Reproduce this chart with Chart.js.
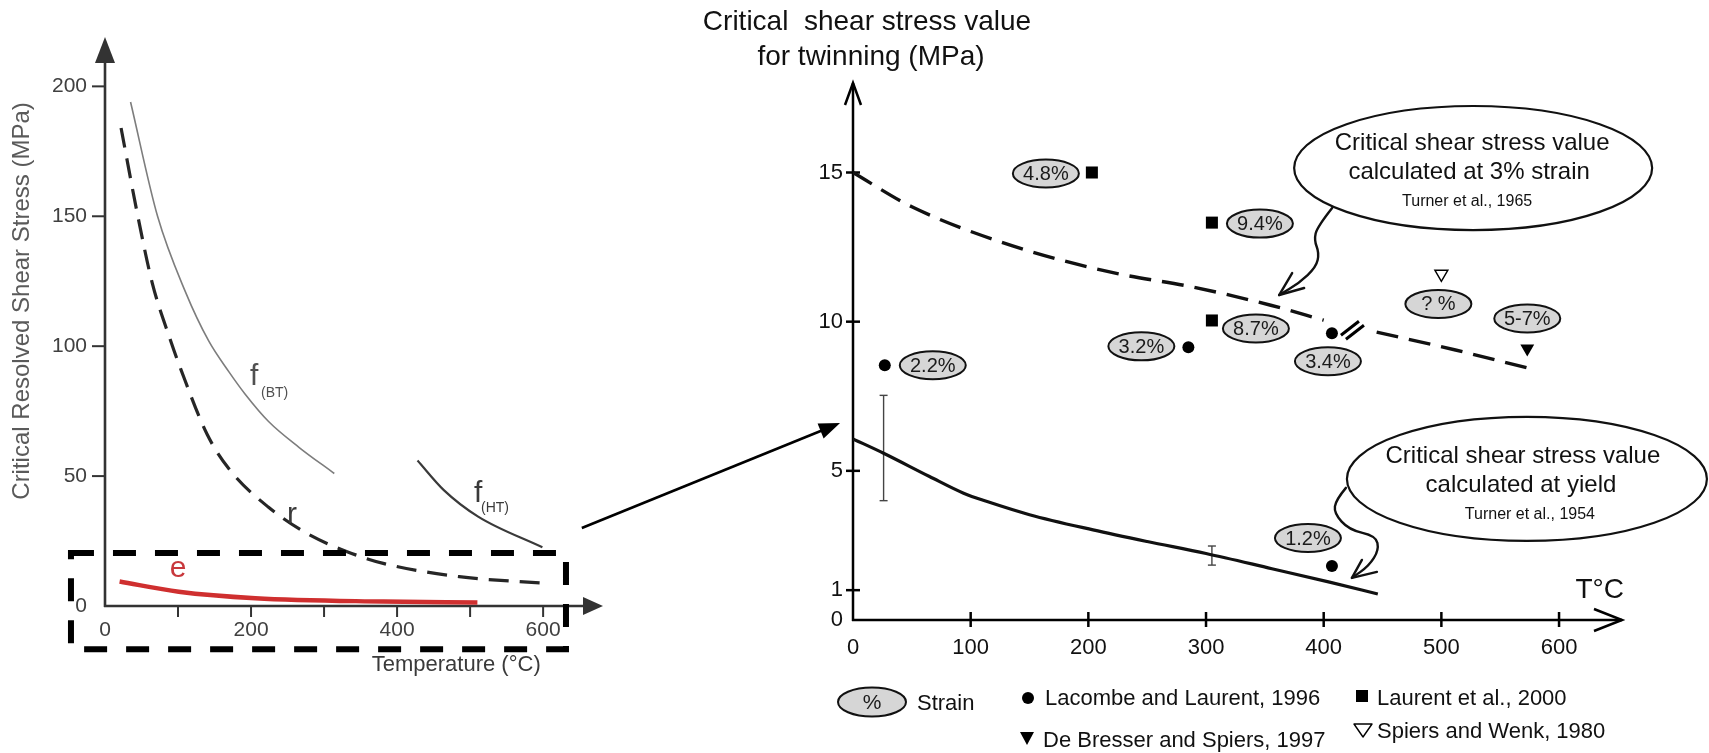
<!DOCTYPE html>
<html><head><meta charset="utf-8">
<script src="https://cdn.jsdelivr.net/npm/chart.js@4.4.1/dist/chart.umd.min.js"></script>
<style>
html,body{margin:0;padding:0;background:#fff;}
#wrap{position:relative;width:1709px;height:753px;overflow:hidden;background:#fff;}
canvas{position:absolute;left:0;top:0;width:1709px;height:753px;}
</style></head><body>
<div id="wrap"><canvas id="left" width="1709" height="753"></canvas><canvas id="right" width="1709" height="753"></canvas></div>
<script>
const FONT = '"Liberation Sans", Arial, Helvetica, sans-serif';
Chart.defaults.font.family = FONT;

// ================= LEFT PANEL DATA =================
const leftXTicks = [0, 100, 200, 300, 400, 500, 600];
const leftXTickLabels = ['0', '', '200', '', '400', '', '600'];
const leftYTicks = [0, 50, 100, 150, 200];
const leftYTickLabels = ['0', '50', '100', '150', '200'];
const fbtT = [35, 72, 110, 142, 170, 192, 224, 266, 314];
const fbtS = [194, 150, 121, 102, 90, 81.5, 71, 61, 51];
const rT = [22, 45, 65, 90, 104, 140, 172, 224, 276, 328, 381, 485, 603];
const rS = [184, 150, 124, 102, 91, 66, 52, 38, 28, 21.3, 16.4, 11.3, 8.7];
const fhtT = [428, 464, 511, 599];
const fhtS = [56, 44.6, 34.4, 22.6];
const eT = [20, 101, 206, 381, 510];
const eS = [9.4, 5.5, 3.0, 1.7, 1.3];

// ================= RIGHT PANEL DATA =================
const rightXTicks = [0, 100, 200, 300, 400, 500, 600];
const rightXTickLabels = ['0', '100', '200', '300', '400', '500', '600'];
const rightYTicks = [0, 1, 5, 10, 15];
const rightYTickLabels = ['0', '1', '5', '10', '15'];
const strain3T = [0, 50, 135, 220, 290, 355, 400, 422, 445, 512, 575];
const strain3S = [15.0, 13.85, 12.55, 11.65, 11.15, 10.55, 10.05, null, 9.65, 9.05, 8.43];
const yieldT = [0, 26, 65, 94, 114, 150, 204, 250, 300, 356, 405, 446];
const yieldS = [6.07, 5.59, 4.81, 4.25, 3.97, 3.53, 3.02, 2.63, 2.23, 1.72, 1.27, 0.87];
const errT = [26, 305];
const errLow = [4.0, 1.84];
const errHigh = [7.53, 2.48];
const lacombeT = [27, 285, 407, 407];
const lacombeS = [8.54, 9.14, 9.61, 1.81];
const lacombeStrain = ['2.2%', '3.2%', '3.4%', '1.2%'];
const laurentT = [203, 305, 305];
const laurentS = [15.0, 13.32, 10.04];
const laurentStrain = ['4.8%', '9.4%', '8.7%'];
const debresserT = [573];
const debresserS = [9.1];
const debresserStrain = ['5-7%'];
const spiersT = [500];
const spiersS = [11.6];
const spiersStrain = ['? %'];

// ================= ANNOTATION LAYOUT (not data) =================
const strainOffsets = {
  'Lacombe and Laurent, 1996': [[48, 0], [-47, -1], [-4, 28], [-24, -28]],
  'Laurent et al., 2000': [[-46, 1], [48, 1], [44, 8]],
  'De Bresser and Spiers, 1997': [[0, -30]],
  'Spiers and Wenk, 1980': [[-3, 30]]
};
const leftCurveLabels = [
  {text: 'f', x: 198.6, y: 85.1, size: 30, color: '#505050', align: 'left'},
  {text: '(BT)', x: 213.6, y: 80.4, size: 14, color: '#505050', align: 'left'},
  {text: 'r', x: 256.1, y: 31.9, size: 30, color: '#3a3a3a', align: 'center'},
  {text: 'f', x: 505.3, y: 40.0, size: 30, color: '#3a3a3a', align: 'left'},
  {text: '(HT)', x: 514.9, y: 36.2, size: 14, color: '#3a3a3a', align: 'left'},
  {text: 'e', x: 100, y: 11.2, size: 30, color: '#c8383c', align: 'center'}
];
const zoomBox = {x0: -46.6, x1: 631.3, y0: -16.6, y1: 20.4};
const connector = {from: {x: 653, y: 30}, to: {x: -11, y: 6.6}};
const callouts = [
  {lines: ['Critical shear stress value', 'calculated at 3% strain', 'Turner et al., 1965'],
   at: {x: 527, y: 15.15}, rx: 179, ry: 62, dy: [-25, 4, 34], dx: [-1, -4, -6],
   tail: [[-141, 40], [-156, 59], [-159, 72], [-154, 85], [-157, 99], [-174, 115], [-194, 127]],
   head: [[-181, 105], [-169, 120]]},
  {lines: ['Critical shear stress value', 'calculated at yield', 'Turner et al., 1954'],
   at: {x: 572.7, y: 4.73}, rx: 180, ry: 62, dy: [-23, 6, 36], dx: [-4, -6, 3],
   tail: [[-181, 9], [-191, 21], [-193, 34], [-178, 51], [-151, 57], [-148, 71], [-158, 87], [-175, 99]],
   head: [[-165, 81], [-150, 93]]}
];

function pts(xs, ys) { return xs.map((x, i) => ({x: x, y: ys[i]})); }

function smoothPath(ctx, p) {
  ctx.beginPath();
  ctx.moveTo(p[0][0], p[0][1]);
  for (let i = 1; i < p.length - 1; i++) {
    const mx = (p[i][0] + p[i + 1][0]) / 2, my = (p[i][1] + p[i + 1][1]) / 2;
    ctx.quadraticCurveTo(p[i][0], p[i][1], mx, my);
  }
  ctx.lineTo(p[p.length - 1][0], p[p.length - 1][1]);
  ctx.stroke();
}
function filledHead(ctx, tx, ty, fx, fy, len, half) {
  const a = Math.atan2(ty - fy, tx - fx);
  const bx = tx - len * Math.cos(a), by = ty - len * Math.sin(a);
  ctx.beginPath();
  ctx.moveTo(tx, ty);
  ctx.lineTo(bx + half * Math.sin(a), by - half * Math.cos(a));
  ctx.lineTo(bx - half * Math.sin(a), by + half * Math.cos(a));
  ctx.closePath();
  ctx.fill();
}
function strainEllipse(ctx, cx, cy, txt, rx, ry, size) {
  ctx.beginPath();
  ctx.ellipse(cx, cy, rx, ry, 0, 0, Math.PI * 2);
  ctx.fillStyle = '#d6d6d6';
  ctx.fill();
  ctx.lineWidth = 2;
  ctx.strokeStyle = '#111';
  ctx.stroke();
  ctx.fillStyle = '#1a1a1a';
  ctx.font = size + 'px ' + FONT;
  ctx.textAlign = 'center';
  ctx.textBaseline = 'middle';
  ctx.fillText(txt, cx, cy + 1);
}
function marker(ctx, style, x, y) {
  ctx.fillStyle = '#000'; ctx.strokeStyle = '#000';
  ctx.beginPath();
  if (style === 'circle') { ctx.arc(x, y, 6, 0, Math.PI * 2); ctx.fill(); }
  else if (style === 'rect') { ctx.fillRect(x - 6, y - 6, 12, 12); }
  else if (style === 'tri') { ctx.moveTo(x - 7, y - 6); ctx.lineTo(x + 7, y - 6); ctx.lineTo(x, y + 7); ctx.closePath(); ctx.fill(); }
  else if (style === 'otri') { ctx.lineWidth = 1.4; ctx.moveTo(x - 9, y - 6); ctx.lineTo(x + 9, y - 6); ctx.lineTo(x, y + 7); ctx.closePath(); ctx.stroke(); }
}

// ================= LEFT PANEL =================
const leftDecor = {
  id: 'leftDecor',
  beforeDatasetsDraw(chart) {
    const {ctx, chartArea: a, scales: {x, y}} = chart;
    const x0 = x.getPixelForValue(0), y0 = y.getPixelForValue(0);
    ctx.save();
    ctx.strokeStyle = '#333'; ctx.fillStyle = '#333'; ctx.lineWidth = 2.6;
    ctx.beginPath(); ctx.moveTo(x0, y0 + 1); ctx.lineTo(x0, a.top + 20); ctx.stroke();
    filledHead(ctx, x0, a.top, x0, y0, 26, 10);
    ctx.beginPath(); ctx.moveTo(x0 - 1, y0); ctx.lineTo(a.right - 15, y0); ctx.stroke();
    filledHead(ctx, a.right, y0, x0, y0, 20, 9);
    ctx.lineWidth = 2;
    leftYTicks.forEach(v => { if (v === 0) return; const p = y.getPixelForValue(v); ctx.beginPath(); ctx.moveTo(x0 - 13, p); ctx.lineTo(x0, p); ctx.stroke(); });
    leftXTicks.forEach(v => { if (v === 0) return; const p = x.getPixelForValue(v); ctx.beginPath(); ctx.moveTo(p, y0); ctx.lineTo(p, y0 + 11); ctx.stroke(); });
    ctx.restore();
  },
  afterDatasetsDraw(chart) {
    const {ctx, scales: {x, y}} = chart;
    ctx.save();
    leftCurveLabels.forEach(l => {
      ctx.font = l.size + 'px ' + FONT;
      ctx.fillStyle = l.color;
      ctx.textAlign = l.align;
      ctx.textBaseline = 'alphabetic';
      ctx.fillText(l.text, x.getPixelForValue(l.x), y.getPixelForValue(l.y));
    });
    // axis titles
    ctx.fillStyle = '#5a5a5a';
    ctx.font = '24px ' + FONT;
    ctx.textAlign = 'center'; ctx.textBaseline = 'middle';
    ctx.save();
    ctx.translate(x.getPixelForValue(0) - 83, y.getPixelForValue(117.4));
    ctx.rotate(-Math.PI / 2);
    ctx.fillText('Critical Resolved Shear Stress (MPa)', 0, 0);
    ctx.restore();
    ctx.font = '22px ' + FONT;
    ctx.fillStyle = '#3a3a3a';
    ctx.fillText('Temperature (\u00B0C)', x.getPixelForValue(481), y.getPixelForValue(-22.5));
    // dashed zoom box
    ctx.strokeStyle = '#000'; ctx.lineWidth = 6; ctx.setLineDash([23, 19]);
    const bx0 = x.getPixelForValue(zoomBox.x0), bx1 = x.getPixelForValue(zoomBox.x1);
    const by0 = y.getPixelForValue(zoomBox.y1), by1 = y.getPixelForValue(zoomBox.y0);
    ctx.strokeRect(bx0, by0, bx1 - bx0, by1 - by0);
    ctx.restore();
  }
};

const leftChart = new Chart(document.getElementById('left'), {
  type: 'line',
  data: {datasets: [
    {label: 'f(BT)', data: pts(fbtT, fbtS), borderColor: '#7d7d7d', borderWidth: 1.6},
    {label: 'r', data: pts(rT, rS), borderColor: '#262626', borderWidth: 3.2, borderDash: [20, 11]},
    {label: 'f(HT)', data: pts(fhtT, fhtS), borderColor: '#3a3a3a', borderWidth: 2.2},
    {label: 'e', data: pts(eT, eS), borderColor: '#cf2f2f', borderWidth: 4.5}
  ]},
  options: {
    responsive: false, animation: false, devicePixelRatio: 1,
    layout: {autoPadding: false, padding: {left: 5, top: 37, right: 1106, bottom: 5}},
    elements: {point: {radius: 0}, line: {cubicInterpolationMode: 'monotone', fill: false}},
    plugins: {legend: {display: false}, tooltip: {enabled: false}},
    scales: {
      x: {type: 'linear', min: 0, max: 682, grid: {display: false, drawTicks: false}, border: {display: false},
        afterBuildTicks: s => { s.ticks = leftXTicks.map(v => ({value: v})); },
        afterFit: s => { s.height = 142; },
        ticks: {autoSkip: false, maxRotation: 0, padding: 12, color: '#404040', font: {size: 21},
          callback: (v, i) => leftXTickLabels[i]}},
      y: {type: 'linear', min: 0, max: 219, grid: {display: false, drawTicks: false}, border: {display: false},
        afterBuildTicks: s => { s.ticks = leftYTicks.map(v => ({value: v})); },
        afterFit: s => { s.width = 100; },
        ticks: {autoSkip: false, padding: 18, color: '#404040', font: {size: 21},
          callback: (v, i) => leftYTickLabels[i]}}
    }
  },
  plugins: [leftDecor]
});

// ================= RIGHT PANEL =================
const rightDecor = {
  id: 'rightDecor',
  beforeDatasetsDraw(chart) {
    const {ctx, chartArea: a, scales: {x, y}} = chart;
    const x0 = x.getPixelForValue(0), y0 = y.getPixelForValue(0);
    ctx.save();
    ctx.strokeStyle = '#000'; ctx.lineWidth = 2.5; ctx.lineCap = 'butt';
    ctx.beginPath(); ctx.moveTo(x0, y0 + 1); ctx.lineTo(x0, a.top); ctx.stroke();
    ctx.beginPath(); ctx.moveTo(x0 - 8, a.top + 22); ctx.lineTo(x0, a.top); ctx.lineTo(x0 + 8, a.top + 22); ctx.stroke();
    ctx.beginPath(); ctx.moveTo(x0 - 1, y0); ctx.lineTo(a.right, y0); ctx.stroke();
    ctx.beginPath(); ctx.moveTo(a.right - 28, y0 - 11); ctx.lineTo(a.right, y0); ctx.lineTo(a.right - 28, y0 + 11); ctx.stroke();
    rightYTicks.forEach(v => { if (v === 0) return; const p = y.getPixelForValue(v); ctx.beginPath(); ctx.moveTo(x0 - 7, p); ctx.lineTo(x0 + 7, p); ctx.stroke(); });
    rightXTicks.forEach(v => { if (v === 0) return; const p = x.getPixelForValue(v); ctx.beginPath(); ctx.moveTo(p, y0 - 8); ctx.lineTo(p, y0 + 7); ctx.stroke(); });
    ctx.restore();
  },
  afterDatasetsDraw(chart) {
    const {ctx, chartArea: a, scales: {x, y}} = chart;
    ctx.save();
    // strain ellipses next to the data points
    chart.data.datasets.forEach((ds, i) => {
      if (!ds.strain) return;
      const meta = chart.getDatasetMeta(i);
      const offs = strainOffsets[ds.label];
      meta.data.forEach((el, j) => {
        strainEllipse(ctx, el.x + offs[j][0], el.y + offs[j][1], ds.strain[j], 33, 14, 20);
      });
    });
    // break mark on the 3% strain curve
    const lm = chart.getDatasetMeta(4).data[2];
    ctx.strokeStyle = '#000'; ctx.lineWidth = 3;
    ctx.beginPath(); ctx.moveTo(lm.x + 9, lm.y + 2); ctx.lineTo(lm.x + 27, lm.y - 12); ctx.stroke();
    ctx.beginPath(); ctx.moveTo(lm.x + 14, lm.y + 6); ctx.lineTo(lm.x + 32, lm.y - 8); ctx.stroke();
    // callouts
    callouts.forEach(c => {
      const cx = x.getPixelForValue(c.at.x), cy = y.getPixelForValue(c.at.y);
      ctx.beginPath(); ctx.ellipse(cx, cy, c.rx, c.ry, 0, 0, Math.PI * 2);
      ctx.lineWidth = 2.2; ctx.strokeStyle = '#111'; ctx.stroke();
      ctx.fillStyle = '#111'; ctx.textAlign = 'center'; ctx.textBaseline = 'middle';
      c.lines.forEach((t, k) => {
        ctx.font = (k < 2 ? 24 : 16) + 'px ' + FONT;
        ctx.fillText(t, cx + c.dx[k], cy + c.dy[k]);
      });
      ctx.lineWidth = 2.4; ctx.lineJoin = 'round'; ctx.lineCap = 'round';
      smoothPath(ctx, c.tail.map(p => [cx + p[0], cy + p[1]]));
      const tip = c.tail[c.tail.length - 1];
      ctx.beginPath();
      ctx.moveTo(cx + c.head[0][0], cy + c.head[0][1]);
      ctx.lineTo(cx + tip[0], cy + tip[1]);
      ctx.lineTo(cx + c.head[1][0], cy + c.head[1][1]);
      ctx.stroke();
    });
    ctx.lineCap = 'butt';
    // y axis title
    const x0 = x.getPixelForValue(0), y0 = y.getPixelForValue(0);
    ctx.fillStyle = '#111'; ctx.font = '28px ' + FONT; ctx.textAlign = 'center'; ctx.textBaseline = 'alphabetic';
    ctx.fillText('Critical  shear stress value', x0 + 14, 30);
    ctx.fillText('for twinning (MPa)', x0 + 18, 65);
    // x axis title
    ctx.textAlign = 'right';
    ctx.fillText('T\u00B0C', a.right + 2, y0 - 22);
    // legend
    strainEllipse(ctx, x0 + 19, y0 + 82, '%', 34, 14.5, 21);
    ctx.fillStyle = '#111'; ctx.font = '22px ' + FONT; ctx.textAlign = 'left'; ctx.textBaseline = 'alphabetic';
    ctx.fillText('Strain', x0 + 64, y0 + 90);
    const legendItems = [
      {ds: 4, style: 'circle', mx: x0 + 175, my: y0 + 78, tx: x0 + 192, ty: y0 + 85},
      {ds: 5, style: 'rect', mx: x0 + 509, my: y0 + 76, tx: x0 + 524, ty: y0 + 85},
      {ds: 6, style: 'tri', mx: x0 + 174, my: y0 + 118, tx: x0 + 190, ty: y0 + 127},
      {ds: 7, style: 'otri', mx: x0 + 510, my: y0 + 110, tx: x0 + 524, ty: y0 + 118}
    ];
    legendItems.forEach(it => {
      marker(ctx, it.style, it.mx, it.my);
      ctx.fillStyle = '#111';
      ctx.fillText(chart.data.datasets[it.ds].label, it.tx, it.ty);
    });
    // connector arrow from the zoom box of the left panel
    const fx = leftChart.scales.x.getPixelForValue(connector.from.x);
    const fy = leftChart.scales.y.getPixelForValue(connector.from.y);
    const tx = x.getPixelForValue(connector.to.x), ty = y.getPixelForValue(connector.to.y);
    ctx.strokeStyle = '#000'; ctx.fillStyle = '#000'; ctx.lineWidth = 2.6;
    const ang = Math.atan2(ty - fy, tx - fx);
    ctx.beginPath(); ctx.moveTo(fx, fy); ctx.lineTo(tx - 15 * Math.cos(ang), ty - 15 * Math.sin(ang)); ctx.stroke();
    filledHead(ctx, tx, ty, fx, fy, 21, 8);
    ctx.restore();
  }
};

const rightChart = new Chart(document.getElementById('right'), {
  type: 'line',
  data: {datasets: [
    {label: 'Turner et al., 1965 (3% strain)', data: pts(strain3T, strain3S), borderColor: '#111', borderWidth: 3.4, borderDash: [22, 11], pointRadius: 0, cubicInterpolationMode: 'monotone', spanGaps: false},
    {label: 'Turner et al., 1954 (yield)', data: pts(yieldT, yieldS), borderColor: '#111', borderWidth: 3.2, pointRadius: 0, cubicInterpolationMode: 'monotone'},
    {label: 'error 1', data: [{x: errT[0], y: errLow[0]}, {x: errT[0], y: errHigh[0]}], borderColor: '#444', borderWidth: 1.4, pointStyle: 'line', pointRadius: 4, pointBorderWidth: 1.4, pointBorderColor: '#444', tension: 0},
    {label: 'error 2', data: [{x: errT[1], y: errLow[1]}, {x: errT[1], y: errHigh[1]}], borderColor: '#444', borderWidth: 1.4, pointStyle: 'line', pointRadius: 4, pointBorderWidth: 1.4, pointBorderColor: '#444', tension: 0},
    {label: 'Lacombe and Laurent, 1996', data: pts(lacombeT, lacombeS), strain: lacombeStrain, showLine: false, pointStyle: 'circle', pointRadius: 6, pointBackgroundColor: '#000', pointBorderWidth: 0},
    {label: 'Laurent et al., 2000', data: pts(laurentT, laurentS), strain: laurentStrain, showLine: false, pointStyle: 'rect', pointRadius: 8.5, pointBackgroundColor: '#000', pointBorderWidth: 0},
    {label: 'De Bresser and Spiers, 1997', data: pts(debresserT, debresserS), strain: debresserStrain, showLine: false, pointStyle: 'triangle', pointRotation: 180, pointRadius: 8, pointBackgroundColor: '#000', pointBorderWidth: 0},
    {label: 'Spiers and Wenk, 1980', data: pts(spiersT, spiersS), strain: spiersStrain, showLine: false, pointStyle: 'triangle', pointRotation: 180, pointRadius: 7.5, pointBackgroundColor: '#fff', pointBorderColor: '#000', pointBorderWidth: 1.4}
  ]},
  options: {
    responsive: false, animation: false, devicePixelRatio: 1,
    layout: {autoPadding: false, padding: {left: 793, top: 83, right: 87, bottom: 5}},
    plugins: {legend: {display: false}, tooltip: {enabled: false}},
    scales: {
      x: {type: 'linear', min: 0, max: 653.5, grid: {display: false, drawTicks: false}, border: {display: false},
        afterBuildTicks: s => { s.ticks = rightXTicks.map(v => ({value: v})); },
        afterFit: s => { s.height = 128; },
        ticks: {autoSkip: false, maxRotation: 0, padding: 15, color: '#111', font: {size: 22},
          callback: (v, i) => rightXTickLabels[i]}},
      y: {type: 'linear', min: 0, max: 18, grid: {display: false, drawTicks: false}, border: {display: false},
        afterBuildTicks: s => { s.ticks = rightYTicks.map(v => ({value: v})); },
        afterFit: s => { s.width = 60; },
        ticks: {autoSkip: false, padding: 10, color: '#111', font: {size: 22},
          callback: (v, i) => rightYTickLabels[i]}}
    }
  },
  plugins: [rightDecor]
});
</script></body></html>
